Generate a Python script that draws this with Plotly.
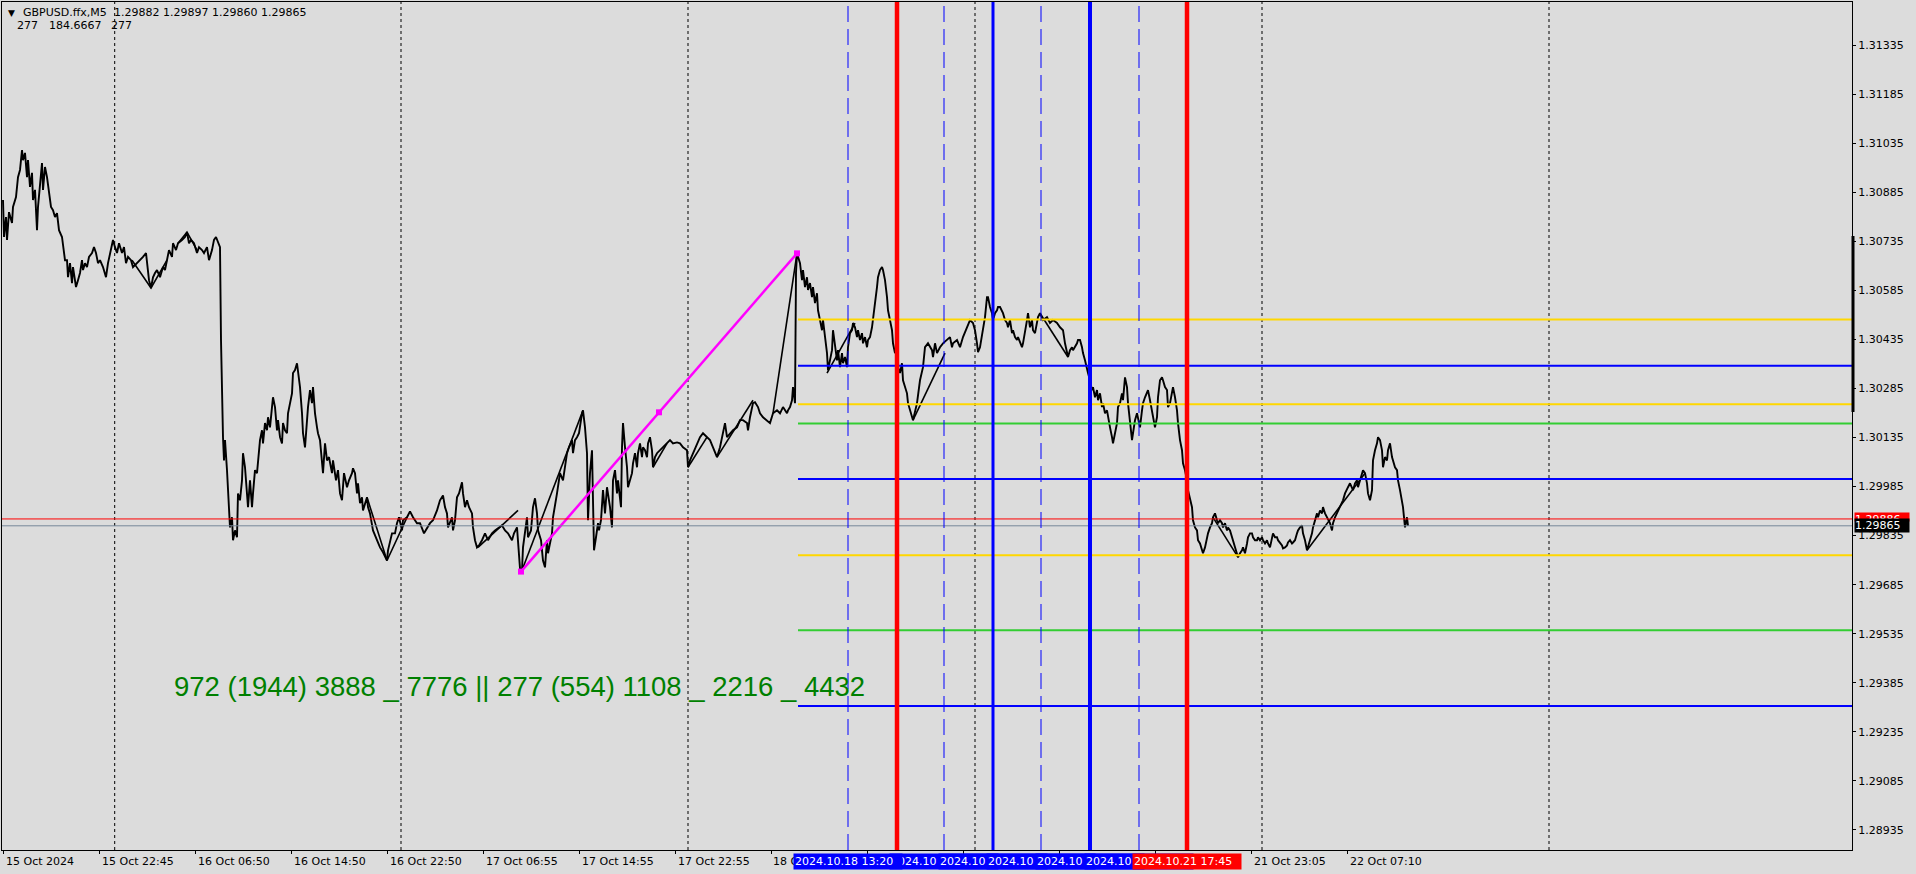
import plotly.graph_objects as go

# ---------------- data ----------------
# x = M5 bar index (1 px per bar on the MT4 chart), y = close price
bars_a = [3,4,6,7,9,12,13,16,18,20,22,23,25,27,28,30,32,33,35,37,38,40,42,43,45,47,49,51,53,55,
          57,59,62,63,65,67,68,70,72,73,76,78,80,82,83,85,87,89,92,94,96,98,100,103,106,108,110,113,115,117,
          119,122,124,126,128,131,133,137,140,143,146,147,149,151,153,155,157,160,163,165,
          167,169,172,173,176,178,182,185,187,189,191,194,197,199,202,204,207,209,212,214,
          216,218,220,221,222,223,224,225,227,228,230,232,233,235,237,238,240,242,243,245,
          247,248,250,252,253,255,257,258,260,262,263,265,267,268,270,272,273,275,277,278,
          280,282,283,285,287,288,290,292,293,295,297,298,300,302,303,305,307,308,310,312,
          313,315,317,318,320]
close_a = [1.30861,1.30748,1.30809,1.30739,1.30824,1.30791,1.30840,1.30870,1.30931,1.30953,
           1.31014,1.30983,1.31005,1.30931,1.30983,1.30901,1.30944,1.30861,1.30892,1.30769,
           1.30840,1.30922,1.30974,1.30892,1.30962,1.30931,1.30892,1.30840,1.30830,1.30809,
           1.30821,1.30769,1.30748,1.30717,1.30677,1.30677,1.30625,1.30668,1.30607,1.30656,
           1.30595,1.30616,1.30638,1.30677,1.30647,1.30668,1.30656,1.30687,1.30699,1.30717,
           1.30699,1.30668,1.30677,1.30656,1.30625,1.30668,1.30699,1.30739,1.30717,1.30699,
           1.30729,1.30699,1.30717,1.30668,1.30687,1.30677,1.30656,1.30668,1.30677,1.30687,
           1.30699,1.30668,1.30616,1.30592,1.30625,1.30638,1.30647,1.30625,1.30656,1.30647,
           1.30677,1.30708,1.30687,1.30729,1.30708,1.30729,1.30739,1.30748,1.30763,1.30729,
           1.30739,1.30729,1.30699,1.30717,1.30708,1.30699,1.30717,1.30677,1.30708,1.30739,
           1.30748,1.30729,1.30717,1.30433,1.30228,1.30136,1.30065,1.30127,1.30035,1.29974,
           1.29860,1.29891,1.29821,1.29851,1.29830,1.29964,1.29943,1.30004,1.30087,1.30044,
           1.29974,1.29922,1.30004,1.29922,1.29964,1.30035,1.30026,1.30056,1.30127,1.30157,
           1.30117,1.30179,1.30157,1.30197,1.30166,1.30228,1.30258,1.30228,1.30157,1.30188,
           1.30136,1.30117,1.30179,1.30157,1.30148,1.30209,1.30240,1.30270,1.30332,1.30341,
           1.30362,1.30341,1.30289,1.30209,1.30148,1.30105,1.30188,1.30228,1.30280,1.30240,
           1.30289,1.30209,1.30166,1.30148,1.30127]

bars_b = [323,325,327,329,332,333,336,338,340,342,344,347,349,352,353,355,357,358,360,362,
          363,367,368,370,372,373,377,380,383,387,388,390,392,395,397,399,402,403,407,410,
          413,417,420,424,427,430,433,437,440,443,445,447,448,452,453,455,457,459,462,463,
          465,467,469,472,473,475,477,479,482,485,488,492,495,498,502,505,508,512,514,517,
          518,520,522,523,527,528,531,533,535,537,538,541,543,545,547,548,552,553,557,558,
          560,563,565,567,569,572,573,575,577,579,582,583,585,586,587,588,590,592,593,594,
          596,598,599,601,603,605,607,608,610,612,613,615,617,618,621,622,623,625,627,628,
          630,632,633,635,637,638,640,642,643,645,647,648,650,652,653,655,657,660,663,667,
          670,673,677,680,683,687,688,690,693,697,700,703,707,710,713,717,720,723,725,727,
          730,733,737,740,743,747,748,750,753,755,758,760,763,767,770,773,777,780,783,787,
          788,790,792,793,795,796,797]
close_b = [1.30026,1.30117,1.30065,1.30075,1.30026,1.30065,1.30004,1.30035,1.29964,1.29943,
           1.30026,1.29983,1.30004,1.30026,1.30041,1.30026,1.29964,1.29995,1.29934,1.29952,
           1.29912,1.29952,1.29922,1.29903,1.29860,1.29851,1.29821,1.29799,1.29784,1.29759,
           1.29790,1.29821,1.29842,1.29842,1.29873,1.29891,1.29851,1.29882,1.29891,1.29909,
           1.29891,1.29873,1.29873,1.29842,1.29860,1.29873,1.29882,1.29912,1.29943,1.29958,
           1.29922,1.29903,1.29860,1.29891,1.29851,1.29882,1.29952,1.29964,1.29998,1.29964,
           1.29922,1.29943,1.29922,1.29903,1.29860,1.29821,1.29799,1.29805,1.29821,1.29842,
           1.29821,1.29842,1.29851,1.29857,1.29866,1.29851,1.29842,1.29821,1.29842,1.29860,
           1.29821,1.29735,1.29729,1.29799,1.29891,1.29830,1.29851,1.29922,1.29949,1.29903,
           1.29851,1.29821,1.29759,1.29738,1.29821,1.29781,1.29842,1.29891,1.29964,1.29983,
           1.30026,1.30004,1.30044,1.30087,1.30105,1.30127,1.30087,1.30127,1.30136,1.30148,
           1.30209,1.30218,1.30166,1.30105,1.30087,1.29882,1.30026,1.30096,1.29860,1.29790,
           1.29830,1.29873,1.29851,1.29882,1.29974,1.29903,1.29983,1.29964,1.29922,1.29860,
           1.30004,1.30035,1.29964,1.30004,1.29922,1.30105,1.30179,1.30105,1.30044,1.29983,
           1.30004,1.30026,1.30056,1.30087,1.30044,1.30087,1.30117,1.30075,1.30105,1.30096,
           1.30075,1.30117,1.30136,1.30096,1.30044,1.30075,1.30087,1.30096,1.30105,1.30117,
           1.30127,1.30117,1.30120,1.30117,1.30105,1.30096,1.30044,1.30065,1.30087,1.30117,
           1.30136,1.30148,1.30136,1.30127,1.30105,1.30075,1.30105,1.30148,1.30179,1.30136,
           1.30148,1.30157,1.30166,1.30188,1.30188,1.30179,1.30157,1.30197,1.30240,1.30243,
           1.30228,1.30209,1.30197,1.30188,1.30179,1.30209,1.30218,1.30209,1.30228,1.30209,
           1.30218,1.30228,1.30249,1.30289,1.30240,1.30638,1.30698]

bars_c = [800,802,803,805,807,808,810,812,813,815,817,818,820,822,823,825,827,828,830,832,
          833,835,837,838,840,842,843,845,847,848,850,852,853,855,857,858,860,862,863,865,
          867,868,870,872,873,875,877,878,880,882,883,885,887,888,890,892,893,895,897,898,
          900,902,903,905,907,908,910,912,913,917,920,923,925,928,932,933,935,937,940,943,
          947,950,952,953,957,960,963,967,970,973,975,977,978,980,982,983,985,987,988,990,
          992,993,995,997,998,1000,1002,1003,1005,1007,1008,1010,1012,1013,1015,1017,1018,1020,1022,1023,
          1025,1027,1028,1030,1032,1033,1035,1037,1038,1040,1043,1047,1050,1053,1057,1060,1063,1065,1067,1068,
          1070,1072,1073,1075,1077,1078,1080,1082,1083,1085,1087,1088,1090]
close_c = [1.30668,1.30616,1.30647,1.30595,1.30625,1.30586,1.30607,1.30564,1.30595,1.30546,
           1.30576,1.30524,1.30494,1.30463,1.30494,1.30442,1.30393,1.30341,1.30371,1.30402,
           1.30463,1.30411,1.30371,1.30402,1.30350,1.30393,1.30362,1.30381,1.30350,1.30411,
           1.30454,1.30463,1.30485,1.30472,1.30442,1.30463,1.30433,1.30454,1.30423,1.30442,
           1.30411,1.30433,1.30442,1.30472,1.30503,1.30546,1.30595,1.30625,1.30647,1.30656,
           1.30647,1.30616,1.30564,1.30524,1.30494,1.30463,1.30423,1.30393,1.30402,1.30350,
           1.30332,1.30362,1.30310,1.30289,1.30270,1.30240,1.30218,1.30197,1.30188,1.30240,
           1.30310,1.30350,1.30411,1.30423,1.30402,1.30381,1.30423,1.30393,1.30411,1.30423,
           1.30433,1.30442,1.30411,1.30423,1.30433,1.30411,1.30442,1.30472,1.30494,1.30485,
           1.30463,1.30423,1.30396,1.30411,1.30454,1.30463,1.30503,1.30564,1.30564,1.30534,
           1.30515,1.30494,1.30515,1.30524,1.30534,1.30534,1.30524,1.30515,1.30494,1.30485,
           1.30472,1.30494,1.30454,1.30463,1.30442,1.30433,1.30442,1.30423,1.30411,1.30423,
           1.30454,1.30494,1.30515,1.30472,1.30494,1.30463,1.30454,1.30485,1.30503,1.30515,
           1.30494,1.30503,1.30485,1.30494,1.30485,1.30472,1.30463,1.30423,1.30393,1.30381,
           1.30402,1.30411,1.30402,1.30411,1.30423,1.30433,1.30433,1.30411,1.30393,1.30371,
           1.30350,1.30332,1.30310]

bars_d = [1092,1093,1095,1097,1098,1100,1102,1103,1105,1107,1108,1110,1112,1113,1115,1117,1118,1120,1122,1123,
          1125,1127,1128,1130,1132,1133,1135,1137,1138,1140,1142,1143,1145,1147,1148,1150,1152,1153,1155,1157,
          1158,1160,1162,1163,1165,1167,1168,1170,1172,1173,1175,1177,1178,1180,1182,1183,1185,1187,1188,1190,
          1192,1193,1195,1197,1198,1200,1202,1203,1205,1207,1208,1210,1212,1213,1215,1217,1218,1220,1222,1223,
          1225,1227,1228,1230,1232,1233,1235,1237,1238,1240,1242,1243,1245,1247,1248,1250,1252,1253,1255,1257,
          1258,1260,1262,1263,1265,1267,1268,1270,1272,1273,1275,1277,1278,1280,1282,1283,1285,1287,1288,1290,
          1292,1293,1295,1297,1298,1300,1302,1303,1305,1307,1308,1310,1312,1313,1315,1317,1318,1320,1322,1323,
          1325,1327,1328,1330,1332,1333,1335,1337,1338,1340,1342,1343,1345,1347,1348,1350,1352,1353,1355,1357,
          1358,1360,1362,1363,1365,1367,1368,1370,1372,1373,1375,1377,1378,1380,1382,1383,1385,1387,1388,1390,
          1392,1393,1395,1397,1398,1400,1402,1403,1405,1407,1408]
close_d = [1.30280,1.30289,1.30258,1.30280,1.30249,1.30270,1.30228,1.30240,1.30209,1.30218,
           1.30197,1.30166,1.30136,1.30117,1.30148,1.30179,1.30228,1.30240,1.30270,1.30249,
           1.30319,1.30289,1.30240,1.30179,1.30127,1.30148,1.30188,1.30209,1.30197,1.30166,
           1.30218,1.30240,1.30258,1.30270,1.30280,1.30249,1.30218,1.30197,1.30166,1.30197,
           1.30258,1.30310,1.30319,1.30310,1.30289,1.30280,1.30228,1.30240,1.30270,1.30289,
           1.30258,1.30218,1.30179,1.30127,1.30096,1.30056,1.30035,1.30004,1.29974,1.29943,
           1.29922,1.29882,1.29860,1.29851,1.29821,1.29811,1.29790,1.29781,1.29799,1.29830,
           1.29842,1.29860,1.29873,1.29891,1.29903,1.29882,1.29873,1.29882,1.29873,1.29860,
           1.29873,1.29851,1.29860,1.29851,1.29830,1.29821,1.29799,1.29781,1.29769,1.29781,
           1.29790,1.29799,1.29781,1.29811,1.29830,1.29842,1.29842,1.29830,1.29821,1.29821,
           1.29830,1.29821,1.29830,1.29821,1.29811,1.29821,1.29811,1.29799,1.29830,1.29842,
           1.29830,1.29830,1.29821,1.29814,1.29805,1.29796,1.29799,1.29805,1.29814,1.29821,
           1.29811,1.29814,1.29821,1.29842,1.29851,1.29860,1.29866,1.29842,1.29821,1.29790,
           1.29799,1.29821,1.29842,1.29860,1.29882,1.29903,1.29891,1.29912,1.29903,1.29922,
           1.29903,1.29891,1.29882,1.29873,1.29851,1.29873,1.29891,1.29903,1.29912,1.29922,
           1.29934,1.29943,1.29964,1.29974,1.29983,1.29995,1.29983,1.29974,1.29995,1.30004,
           1.29983,1.30004,1.30026,1.30035,1.30026,1.29995,1.29964,1.29943,1.29974,1.30065,
           1.30096,1.30117,1.30136,1.30127,1.30096,1.30044,1.30075,1.30065,1.30096,1.30117,
           1.30075,1.30065,1.30044,1.30035,1.30004,1.29974,1.29943,1.29922,1.29860,1.29891,
           1.29865]

# straight "swing" segments drawn over the price line
swing_bars = [132,151,167,None,178,187,197,None,367,387,407,None,478,518,None,522,583,None,
              653,667,None,688,707,None,717,753,None,773,797,None,827,855,None,913,945,None,
              1040,1068,None,1213,1238,None,1307,1365]
swing_close = [1.30677,1.30592,1.30677,None,1.30729,1.30763,1.30708,None,1.29952,1.29759,1.29891,None,
               1.29799,1.29912,None,1.29729,1.30218,None,1.30044,1.30117,None,1.30044,1.30136,None,
               1.30075,1.30249,None,1.30209,1.30698,None,1.30332,1.30485,None,1.30188,1.30393,None,
               1.30515,1.30381,None,1.29891,1.29769,None,1.29790,1.30026]

# magenta trend line (with its three handles)
trend_bars = [521, 659, 797]
trend_price = [1.29725, 1.30212, 1.30698]

# horizontal levels (start at the trend line's end)
level_start_bar = 798
level_prices = [1.30496, 1.30354, 1.30237, 1.30178, 1.30008, 1.29775, 1.29546, 1.29314]
level_colors = ["#FFD700", "#0000FF", "#FFD700", "#32CD32", "#0000FF", "#FFD700", "#32CD32", "#0000FF"]

ask_price = 1.29886
bid_price = 1.29865

# vertical lines
grid_bars = [114.7, 401, 688, 975, 1262, 1549]
dash_vline_bars = [848, 944, 1041, 1139]
red_vline_bars = [897, 1187]
blue_vline_bars = [993, 1090]
blue_vline_widths = [3, 4]

# axes
x_range = [2, 1852]
y_range = [1.288738, 1.314665]
y_tick_labels = ["1.28935", "1.29085", "1.29235", "1.29385", "1.29535", "1.29685", "1.29835",
                 "1.29985", "1.30135", "1.30285", "1.30435", "1.30585", "1.30735", "1.30885",
                 "1.31035", "1.31185", "1.31335"]
x_tick_bars = [3.6, 99.5, 195.5, 291.5, 387.5, 483.5, 579.5, 675.5, 771.5,
               867.5, 963.5, 1059.5, 1155.5, 1251.5, 1347.5]
x_label_bars = [3.6, 99.5, 195.5, 291.5, 387.5, 483.5, 579.5, 675.5, 771.5, 1251.5, 1347.5]
x_labels = ["15 Oct 2024", "15 Oct 22:45", "16 Oct 06:50", "16 Oct 14:50", "16 Oct 22:50",
            "17 Oct 06:55", "17 Oct 14:55", "17 Oct 22:55", "18 Oct", "21 Oct 23:05", "22 Oct 07:10"]

# time labels of the vertical lines on the time axis (drawing order, last on top)
vlabel_bars = [944, 993, 1041, 1090, 1139, 1187, 848]
vlabel_texts = ["2024.10", "2024.10", "2024.10", "2024.10", "2024.10", "2024.10.21 17:45", "2024.10.18 13:20"]
vlabel_colors = ["#0000FF", "#0000FF", "#0000FF", "#0000FF", "#0000FF", "#FF0000", "#0000FF"]

header_line1 = "GBPUSD.ffx,M5"
header_prices = "1.29882 1.29897 1.29860 1.29865"
header_line2 = ["277", "184.6667", "277"]
info_text = "972 (1944) 3888 _ 7776 || 277 (554) 1108 _ 2216 _ 4432"

# ---------------- figure ----------------
W, H = 1916, 874
ML, MR, MT, MB = 2, 64, 2, 24
PW, PH = W - ML - MR, H - MT - MB
BG = "#DCDCDC"
FONT = "DejaVu Sans, Verdana, sans-serif"


def px_x(px):
    return (px - ML) / PW


def px_y(py):
    return (MT + PH - py) / PH


bars = bars_a + bars_b + bars_c + bars_d
closes = close_a + close_b + close_c + close_d

fig = go.Figure()
fig.add_trace(go.Scatter(x=bars, y=closes, mode="lines",
                         line=dict(color="black", width=1.9), hoverinfo="skip"))
fig.add_trace(go.Scatter(x=swing_bars, y=swing_close, mode="lines", connectgaps=False,
                         line=dict(color="black", width=1.6), hoverinfo="skip"))
fig.add_trace(go.Scatter(x=trend_bars, y=trend_price, mode="lines+markers",
                         line=dict(color="#FF00FF", width=2.5),
                         marker=dict(symbol="square", size=6, color="#FF00FF"), hoverinfo="skip"))

shapes = []
for gx in grid_bars:
    shapes.append(dict(type="line", xref="x", yref="paper", x0=gx, x1=gx, y0=0, y1=1,
                       line=dict(color="black", width=1, dash="3px,3px"), layer="below"))
# bid / ask
shapes.append(dict(type="line", xref="paper", yref="y", x0=0, x1=1, y0=ask_price, y1=ask_price,
                   line=dict(color="#FF0000", width=1), layer="above"))
shapes.append(dict(type="line", xref="paper", yref="y", x0=0, x1=1, y0=bid_price, y1=bid_price,
                   line=dict(color="#778899", width=1), layer="above"))
for lv, lc in zip(level_prices, level_colors):
    shapes.append(dict(type="line", xref="x", yref="y", x0=level_start_bar, x1=x_range[1], y0=lv, y1=lv,
                       line=dict(color=lc, width=2), layer="above"))
for vx in dash_vline_bars:
    shapes.append(dict(type="line", xref="x", yref="paper", x0=vx, x1=vx, y0=0, y1=1,
                       line=dict(color="#0000FF", width=1, dash="16px,7px"), layer="above"))
for vx, vw in zip(blue_vline_bars, blue_vline_widths):
    shapes.append(dict(type="line", xref="x", yref="paper", x0=vx, x1=vx, y0=0, y1=1,
                       line=dict(color="#0000FF", width=vw), layer="above"))
for vx in red_vline_bars:
    shapes.append(dict(type="line", xref="x", yref="paper", x0=vx, x1=vx, y0=0, y1=1,
                       line=dict(color="#FF0000", width=4.5), layer="above"))
# thick marker on the price scale
shapes.append(dict(type="line", xref="paper", yref="y", x0=px_x(1853), x1=px_x(1853),
                   y0=1.30213, y1=1.30751, line=dict(color="black", width=3), layer="above"))

annotations = []
ann_font = dict(family=FONT, size=11, color="black")
# time axis labels
for xb, lab in zip(x_label_bars, x_labels):
    extra = {}
    if lab == "18 Oct":
        # partly hidden behind the first vertical-line label
        extra = dict(width=24, align="left", borderpad=0)
    annotations.append(dict(x=xb, xref="x", y=px_y(861.5), yref="paper", text=lab, showarrow=False,
                            xanchor="left", yanchor="middle", font=ann_font, **extra))
# header
annotations.append(dict(x=px_x(6), y=px_y(13), xref="paper", yref="paper", text="\u25bc", showarrow=False,
                        xanchor="left", yanchor="middle", font=dict(family=FONT, size=9, color="black")))
annotations.append(dict(x=px_x(21), y=px_y(13), xref="paper", yref="paper", text=header_line1,
                        showarrow=False, xanchor="left", yanchor="middle", font=ann_font))
annotations.append(dict(x=px_x(112), y=px_y(13), xref="paper", yref="paper", text=header_prices,
                        showarrow=False, xanchor="left", yanchor="middle", font=ann_font))
for hx, ht in zip([15, 47, 109], header_line2):
    annotations.append(dict(x=px_x(hx), y=px_y(25), xref="paper", yref="paper", text=ht,
                            showarrow=False, xanchor="left", yanchor="middle", font=ann_font))
# green info text
annotations.append(dict(x=px_x(172), y=px_y(686), xref="paper", yref="paper", text=info_text,
                        showarrow=False, xanchor="left", yanchor="middle",
                        font=dict(family="Liberation Sans, Arial, sans-serif", size=27.5, color="#008000")))
# vertical-line time labels
for vb, vt, vc in zip(vlabel_bars, vlabel_texts, vlabel_colors):
    annotations.append(dict(x=vb, xref="x", y=px_y(861.5), yref="paper", text=vt, showarrow=False,
                            xanchor="center", yanchor="middle", width=106, align="left",
                            bgcolor=vc, borderpad=1,
                            font=dict(family=FONT, size=11, color="white")))
# price scale labels for ask (partly hidden) / bid
annotations.append(dict(x=px_x(1854), xref="paper", y=px_y(511.5), yref="paper", text=f"{ask_price:.5f}",
                        showarrow=False, xanchor="left", yanchor="top", width=54, height=7.5,
                        align="left", valign="top",
                        bgcolor="#FF0000", borderpad=0, font=dict(family=FONT, size=11, color="white")))
annotations.append(dict(x=px_x(1854), xref="paper", y=bid_price, yref="y", text=f"{bid_price:.5f}",
                        showarrow=False, xanchor="left", yanchor="middle", width=54, align="left",
                        bgcolor="black", borderpad=0, font=dict(family=FONT, size=11, color="white")))

fig.update_layout(
    width=W, height=H,
    margin=dict(l=ML, r=MR, t=MT, b=MB, pad=0),
    paper_bgcolor=BG, plot_bgcolor=BG,
    showlegend=False,
    font=dict(family=FONT, size=11, color="black"),
    shapes=shapes, annotations=annotations,
    xaxis=dict(range=x_range, showgrid=False, zeroline=False, showline=True, linecolor="black",
               linewidth=1, mirror=True, ticks="outside", ticklen=3, tickcolor="black",
               tickvals=x_tick_bars, showticklabels=False, fixedrange=True),
    yaxis=dict(range=y_range, side="right", showgrid=False, zeroline=False, showline=True,
               linecolor="black", linewidth=1, mirror=True, ticks="outside", ticklen=3,
               tickcolor="black", tickvals=[float(t) for t in y_tick_labels], ticktext=y_tick_labels,
               tickfont=dict(family=FONT, size=11, color="black"), fixedrange=True),
)

fig.write_html("out.html", config={"displayModeBar": False},
               post_script="document.body.style.margin='0';document.body.style.overflow='hidden';")
